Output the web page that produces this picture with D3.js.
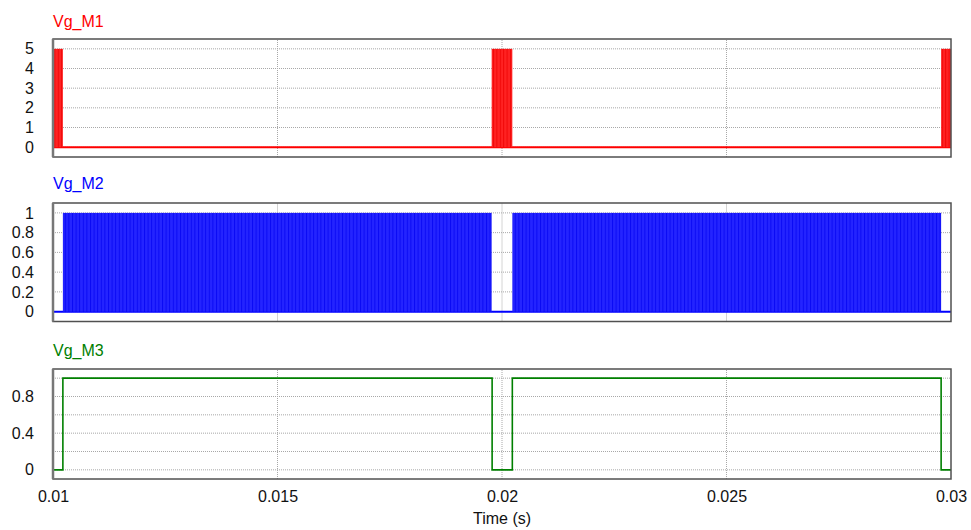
<!DOCTYPE html>
<html>
<head>
<meta charset="utf-8">
<script src="https://cdn.jsdelivr.net/npm/d3@7"></script>
<style>
  body { margin: 0; background: white; }
  text { font-family: "Liberation Sans", Arial, sans-serif; }
</style>
</head>
<body>
<div id="chart"></div>
<script>
// time axis
const timeDomain = [0.01, 0.03];
const timeTicks = [0.01, 0.015, 0.02, 0.025, 0.03];

// Vg_M1 : high-frequency bursts (0..5) around the zero crossings
const m1Ticks = [0, 1, 2, 3, 4, 5];
const m1Bursts = [[0.01, 0.01022], [0.01977, 0.02023], [0.02978, 0.03]];
const m1High = 5;

// Vg_M2 : PWM bands (0..1)
const m2Ticks = [0, 0.2, 0.4, 0.6, 0.8, 1];
const m2Bursts = [[0.01022, 0.01977], [0.02023, 0.02978]];
const m2High = 1;

// Vg_M3 : low-frequency gate
const m3Grid = [0, 0.2, 0.4, 0.6, 0.8, 1];
const m3Ticks = [0, 0.4, 0.8];
const m3Edges = [0.01, 0.01022, 0.01978, 0.02023, 0.02978, 0.03];
const m3Levels = [0, 1, 0, 1, 0, 0];

let dim = {'width': 971, 'height': 530};

let svg = d3.select('#chart').append('svg')
    .attr('width', dim.width)
    .attr('height', dim.height)
    .style('display', 'block');

let x = d3.scaleLinear().domain(timeDomain).range([53, 951]);

// stripe patterns, to hint at the individual switching pulses
let defs = svg.append('defs');
function stripes(id, base, dark, w){
    let p = defs.append('pattern')
        .attr('id', id)
        .attr('patternUnits', 'userSpaceOnUse')
        .attr('width', w)
        .attr('height', 10);
    p.append('rect').attr('width', w).attr('height', 10).attr('fill', base);
    p.append('rect').attr('width', 1).attr('height', 10).attr('fill', dark);
}
stripes('redStripes', '#ff2222', '#f00808', 3.4);
stripes('blueStripes', '#2424ff', '#0a0af4', 3.6);

function panel(opts){
    let y = d3.scaleLinear().domain(opts.domain).range(opts.range);
    let g = svg.append('g');

    // grid
    g.selectAll('.hgrid')
        .data(opts.grid)
        .join('line')
        .attr('x1', x.range()[0]).attr('x2', x.range()[1])
        .attr('y1', d => y(d)).attr('y2', d => y(d))
        .attr('stroke', '#a8a8a8')
        .attr('stroke-dasharray', '1,1');
    g.selectAll('.vgrid')
        .data(timeTicks.slice(1, -1))
        .join('line')
        .attr('x1', d => x(d)).attr('x2', d => x(d))
        .attr('y1', opts.range[0]).attr('y2', opts.range[1])
        .attr('stroke', '#a8a8a8')
        .attr('stroke-dasharray', '1,1');

    // tick labels
    let ax = g.append('g')
        .attr('transform', 'translate(' + x.range()[0] + ',0)')
        .call(d3.axisLeft(y).tickValues(opts.ticks).tickSize(0).tickPadding(19).tickFormat(d => d));
    ax.select('.domain').remove();
    ax.selectAll('text')
        .attr('font-size', 16)
        .attr('fill', '#111')
        .attr('font-family', '"Liberation Sans", Arial, sans-serif');

    // title
    g.append('text')
        .attr('x', x.range()[0])
        .attr('y', opts.titleY)
        .attr('font-size', 16)
        .attr('fill', opts.color)
        .text(opts.title);

    opts.draw(g, y);

    // frame
    g.append('rect')
        .attr('x', x.range()[0])
        .attr('y', opts.range[1])
        .attr('width', x.range()[1] - x.range()[0])
        .attr('height', opts.range[0] - opts.range[1])
        .attr('fill', 'none')
        .attr('stroke', '#505050')
        .attr('stroke-width', 1.5);
    g.append('line')
        .attr('x1', x.range()[0]).attr('x2', x.range()[0])
        .attr('y1', opts.range[0]).attr('y2', opts.range[1])
        .attr('stroke', '#777')
        .attr('stroke-width', 2.5);
    return y;
}

function burstPanel(g, y, bursts, high, color, fill){
    g.append('line')
        .attr('x1', x(timeDomain[0])).attr('x2', x(timeDomain[1]))
        .attr('y1', y(0)).attr('y2', y(0))
        .attr('stroke', color)
        .attr('stroke-width', 2);
    g.selectAll('.burst')
        .data(bursts)
        .join('rect')
        .attr('x', d => x(d[0]))
        .attr('width', d => x(d[1]) - x(d[0]))
        .attr('y', y(high))
        .attr('height', y(0) - y(high))
        .attr('fill', fill);
}

panel({
    title: 'Vg_M1', color: '#ff0000', titleY: 27,
    domain: [-0.5, 5.5], range: [157, 39],
    grid: m1Ticks, ticks: m1Ticks,
    draw: (g, y) => burstPanel(g, y, m1Bursts, m1High, '#ff0000', 'url(#redStripes)')
});

panel({
    title: 'Vg_M2', color: '#0000ff', titleY: 189,
    domain: [-0.1, 1.1], range: [321.5, 203],
    grid: m2Ticks, ticks: m2Ticks,
    draw: (g, y) => burstPanel(g, y, m2Bursts, m2High, '#0000ff', 'url(#blueStripes)')
});

let y3 = panel({
    title: 'Vg_M3', color: '#008000', titleY: 356,
    domain: [-0.1, 1.1], range: [479, 369],
    grid: m3Grid, ticks: m3Ticks,
    draw: (g, y) => {
        let line = d3.line()
            .x((d, i) => x(m3Edges[i]))
            .y(d => y(d))
            .curve(d3.curveStepAfter);
        g.append('path')
            .attr('d', line(m3Levels))
            .attr('fill', 'none')
            .attr('stroke', '#008000')
            .attr('stroke-width', 1.6);
    }
});

// time axis labels
let xa = svg.append('g')
    .attr('transform', 'translate(0,479)')
    .call(d3.axisBottom(x).tickValues(timeTicks).tickSize(0).tickPadding(12).tickFormat(d => d));
xa.select('.domain').remove();
xa.selectAll('text')
    .attr('font-size', 16)
    .attr('fill', '#111')
    .attr('font-family', '"Liberation Sans", Arial, sans-serif');

svg.append('text')
    .attr('x', x(0.02))
    .attr('y', 524)
    .attr('text-anchor', 'middle')
    .attr('font-size', 16)
    .attr('fill', '#111')
    .text('Time (s)');
</script>
</body>
</html>
